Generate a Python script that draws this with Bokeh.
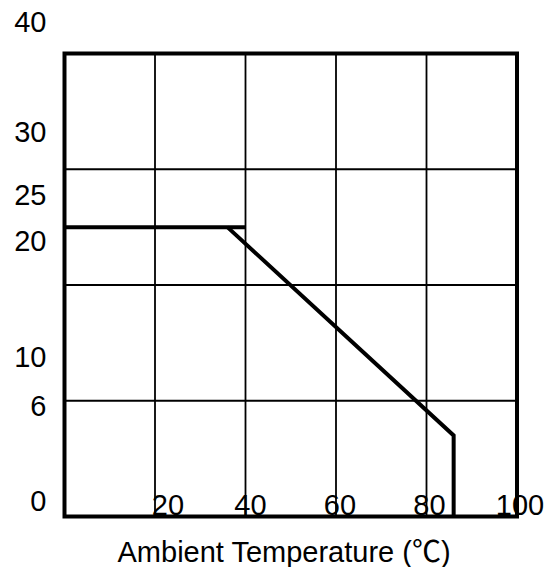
from bokeh.plotting import figure
from bokeh.models import Range1d
from bokeh.embed import file_html
from bokeh.resources import INLINE
from bokeh.core.properties import value

# ---- data ----
temp_flat = [0, 40]
power_flat = [25, 25]
temp_derate = [36, 86, 86]
power_derate = [25, 7, 0]
x_min, x_max = 0, 100
y_min, y_max = 0, 40
x_grid = [20, 40, 60, 80]
y_grid = [10, 20, 30]
x_tick_values = [20, 40, 60, 80, 100]
x_tick_labels = ["20", "40", "60", "80", "100"]
y_tick_values = [40, 30, 25, 20, 10, 6, 0]
y_tick_labels = ["40", "30", "25", "20", "10", "6", "0"]
x_title = "Ambient Temperature (\u2103)"

# ---- layout / style ----
W, H = 546, 567
BOX_L, BOX_R, BOX_T, BOX_B = 64, 516.5, 53, 516   # pixel box of the chart frame
FONT = "'Liberation Sans', Arial, 'Noto Sans CJK SC'"
FS = "29px"
SHIFT = 11  # baseline correction of the svg text renderer
x_label_dx = {"20": 13, "40": 5, "60": 4, "80": 3, "100": 3}
y_label_dy = {"40": 21, "30": 26, "25": 21, "20": 33, "10": 33, "6": 30, "0": 5}

# ranges chosen so that the data box lands on the frame pixels
ppx = (BOX_R - BOX_L) / (x_max - x_min)
ppy = (BOX_B - BOX_T) / (y_max - y_min)
x_range = Range1d(x_min - BOX_L / ppx, x_max + (W - BOX_R) / ppx)
y_range = Range1d(y_min - (H - BOX_B) / ppy, y_max + BOX_T / ppy)

p = figure(width=W, height=H, title=None, x_range=x_range, y_range=y_range,
           x_axis_type=None, y_axis_type=None,
           toolbar_location=None, output_backend="svg",
           min_border=0, min_border_left=0, min_border_right=0,
           min_border_top=0, min_border_bottom=0)
p.background_fill_color = "white"
p.border_fill_color = "white"
p.outline_line_color = None
p.grid.visible = False

# grid lines
p.segment(x0=x_grid, y0=[y_min] * len(x_grid), x1=x_grid, y1=[y_max] * len(x_grid),
          line_color="black", line_width=1.8)
p.segment(x0=[x_min] * len(y_grid), y0=y_grid, x1=[x_max] * len(y_grid), y1=y_grid,
          line_color="black", line_width=1.8)

# data curve
p.line(temp_flat, power_flat, line_width=4, line_color="black", line_cap="butt")
p.line(temp_derate, power_derate, line_width=4, line_color="black", line_join="miter")

# frame box
p.quad(left=[x_min], right=[x_max], bottom=[y_min], top=[y_max],
       fill_color=None, line_color="black", line_width=4, line_join="miter")

# tick labels
p.text(x=x_tick_values, y=[y_min] * len(x_tick_values), text=x_tick_labels,
       x_offset=[x_label_dx[t] for t in x_tick_labels], y_offset=-1 - SHIFT,
       text_align="center", text_baseline="alphabetic",
       text_font=value(FONT), text_font_size=FS, text_color="black")
p.text(x=[x_min] * len(y_tick_values), y=y_tick_values, text=y_tick_labels,
       x_offset=-18, y_offset=[-y_label_dy[t] - SHIFT for t in y_tick_labels],
       text_align="right", text_baseline="alphabetic",
       text_font=value(FONT), text_font_size=FS, text_color="black")

# axis title
p.text(x=[x_min], y=[y_min], text=[x_title], x_offset=53, y_offset=46 - SHIFT,
       text_align="left", text_baseline="alphabetic",
       text_font=value(FONT), text_font_size=FS, text_color="black")

open("out.html", "w").write(file_html(p, INLINE))
